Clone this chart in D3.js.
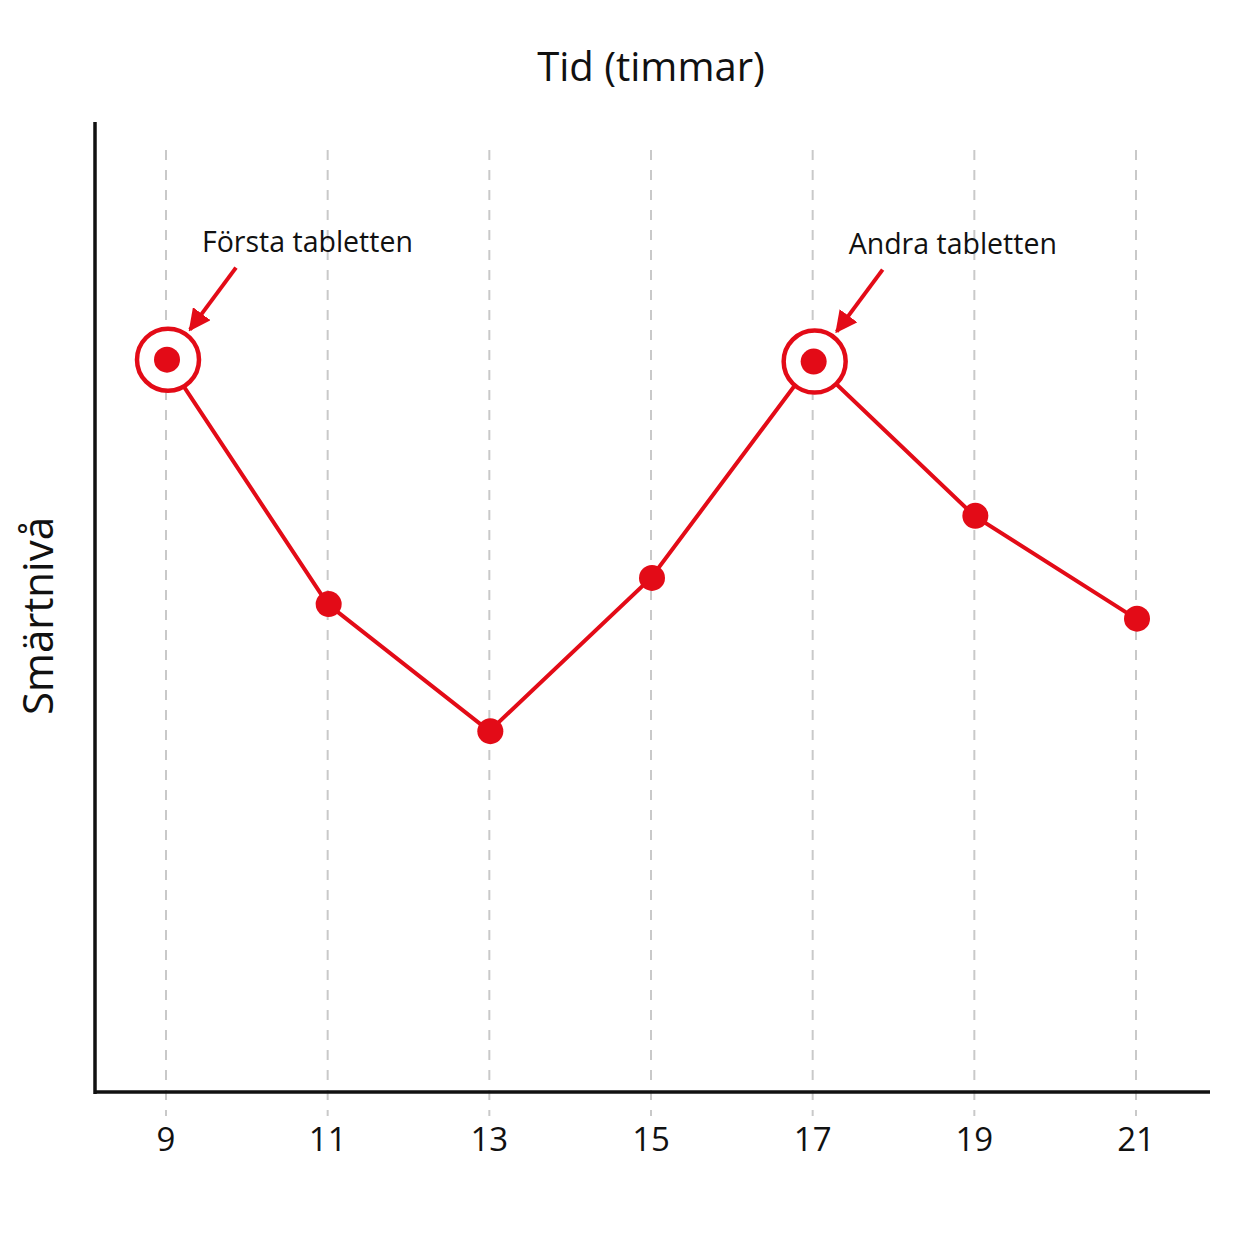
<!DOCTYPE html>
<html>
<head>
<meta charset="utf-8">
<script src="https://cdn.jsdelivr.net/npm/d3@7/dist/d3.min.js"></script>
<style>
  html, body { margin: 0; padding: 0; background: #fff; }
  text { font-family: "Open Sans", "Noto Sans", sans-serif; fill: #111; }
</style>
</head>
<body>
<div class="chart"></div>
<script>
// data (pain level on an unlabelled 0-10 scale)
var hours = [9, 11, 13, 15, 17, 19, 21];
var pain = [7.55, 5.03, 3.72, 5.3, 7.53, 5.94, 4.88];
var tickLabels = ['9', '11', '13', '15', '17', '19', '21'];
var notes = [
  { hour: 9, text: 'Första tabletten' },
  { hour: 17, text: 'Andra tabletten' }
];

var width = 1254, height = 1254;
var red = '#e30b17';

var svg = d3.select('.chart')
  .append('svg')
  .attr('width', width)
  .attr('height', height);

var defs = svg.append('defs');
defs.append('marker')
  .attr('id', 'arrow')
  .attr('viewBox', '0 0 10 10')
  .attr('refX', 9)
  .attr('refY', 5)
  .attr('markerWidth', 5.5)
  .attr('markerHeight', 5.5)
  .attr('markerUnits', 'strokeWidth')
  .attr('orient', 'auto')
  .append('path')
  .attr('d', 'M0,0 L10,5 L0,10 z')
  .attr('fill', red);

var x = d3.scaleLinear().domain([9, 21]).range([166, 1136]);
var y = d3.scaleLinear().domain([0, 10]).range([1092, 122]);

// dashed gridlines
svg.append('g')
  .selectAll('line')
  .data(hours)
  .enter().append('line')
  .attr('x1', d => x(d))
  .attr('x2', d => x(d))
  .attr('y1', 150)
  .attr('y2', 1116)
  .attr('stroke', '#c9c9c9')
  .attr('stroke-width', 2)
  .attr('stroke-dasharray', '10,10');

// axes
svg.append('line')
  .attr('x1', 95).attr('x2', 95)
  .attr('y1', 122).attr('y2', 1094)
  .attr('stroke', '#111').attr('stroke-width', 3.5);
svg.append('line')
  .attr('x1', 94).attr('x2', 1210)
  .attr('y1', 1092).attr('y2', 1092)
  .attr('stroke', '#111').attr('stroke-width', 3.5);

svg.append('g')
  .selectAll('text')
  .data(hours)
  .enter().append('text')
  .attr('x', d => x(d))
  .attr('y', 1151)
  .attr('text-anchor', 'middle')
  .style('font-size', '33px')
  .text((d, i) => tickLabels[i]);

// titles
svg.append('text')
  .attr('x', 651)
  .attr('y', 81)
  .attr('text-anchor', 'middle')
  .style('font-size', '40px')
  .style('font-weight', 500)
  .text('Tid (timmar)');

svg.append('text')
  .attr('transform', 'translate(53,616) rotate(-90)')
  .attr('text-anchor', 'middle')
  .style('font-size', '42px')
  .style('font-weight', 500)
  .text('Smärtnivå');

// line
var line = d3.line()
  .x((d, i) => x(hours[i]))
  .y(d => y(d));

svg.append('path')
  .datum(pain)
  .attr('d', line)
  .attr('fill', 'none')
  .attr('stroke', red)
  .attr('stroke-width', 4);

// rings behind the marked points
var ringData = notes.map(n => ({ hour: n.hour, value: pain[hours.indexOf(n.hour)], text: n.text }));

svg.append('g')
  .selectAll('circle')
  .data(ringData)
  .enter().append('circle')
  .attr('cx', d => x(d.hour) + 2)
  .attr('cy', d => y(d.value))
  .attr('r', 31)
  .attr('fill', '#fff')
  .attr('stroke', red)
  .attr('stroke-width', 4.5);

// points
svg.append('g')
  .selectAll('circle')
  .data(pain)
  .enter().append('circle')
  .attr('cx', (d, i) => x(hours[i]) + 1)
  .attr('cy', d => y(d))
  .attr('r', 13)
  .attr('fill', red);

// annotations
var note = svg.append('g')
  .selectAll('g')
  .data(ringData)
  .enter().append('g');

note.append('line')
  .attr('x1', d => x(d.hour) + 70)
  .attr('y1', d => y(d.value) - 92)
  .attr('x2', d => x(d.hour) + 24)
  .attr('y2', d => y(d.value) - 30)
  .attr('stroke', red)
  .attr('stroke-width', 4)
  .attr('marker-end', 'url(#arrow)');

note.append('text')
  .attr('x', d => x(d.hour) + 36)
  .attr('y', d => y(d.value) - 108)
  .style('font-size', '28.5px')
  .style('font-weight', 500)
  .text(d => d.text);
</script>
</body>
</html>
